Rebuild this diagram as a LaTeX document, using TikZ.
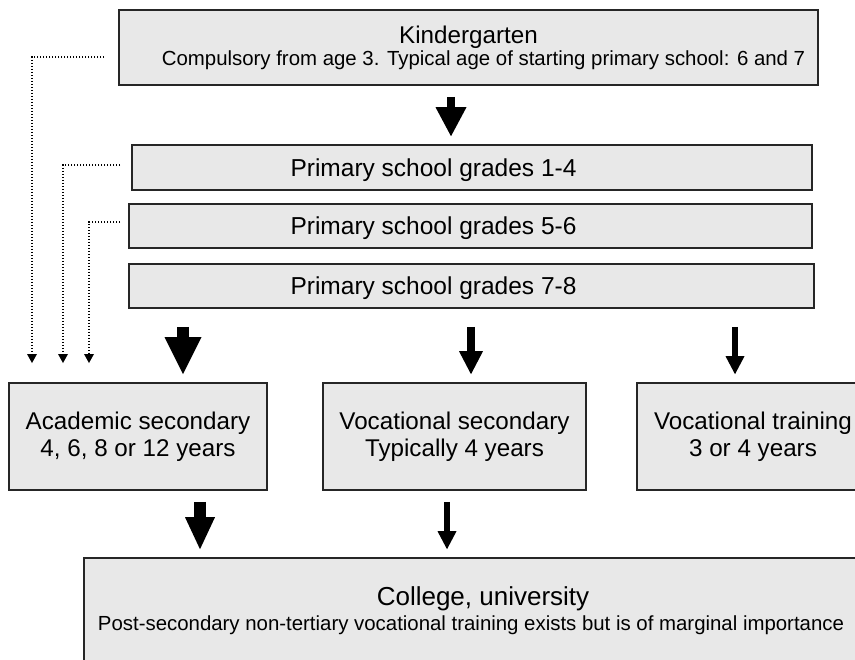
\documentclass[tikz,border=0pt]{standalone}
\usepackage{fontspec}
\setmainfont{Liberation Sans}
\usetikzlibrary{arrows.meta}

\newcommand{\smalltext}[1]{{\fontsize{10.2}{11}\selectfont #1}}

\tikzset{
  stage/.style={draw=black!85, fill=black!9, line width=0.8pt, inner sep=0pt,
    align=center, font=\fontsize{12.1}{13.5}\selectfont},
  stagetext/.style={inner sep=0pt, anchor=base, font=\fontsize{12.25}{13.5}\selectfont},
  dotline/.style={line width=1pt, dash pattern=on 0.8pt off 0.7pt,
    -{Triangle[width=5pt,length=4.5pt,line width=0pt]}},
  bigarrow/.style={line width=6pt, -{Triangle[width=18.5pt,length=18.5pt,line width=0pt]}},
  topArrow/.style={line width=4pt, -{Triangle[width=15.5pt,length=14.5pt,line width=0pt]}},
  midarrow/.style={line width=4pt, -{Triangle[width=12pt,length=11.5pt,line width=0pt]}},
  thinarrow/.style={line width=3pt, -{Triangle[width=9.5pt,length=9pt,line width=0pt]}},
  lowarrow/.style={line width=6pt, -{Triangle[width=15pt,length=16pt,line width=0pt]}}
}

\begin{document}
\begin{tikzpicture}[x=0.5pt,y=-0.5pt]
        \useasboundingbox (0,0) rectangle (855,659);
        \clip (0,0) rectangle (855,659);

        % school stages
        \node[stage, minimum width=349.5pt, minimum height=37.5pt] (kg) at (468.5,47.5)
          {Kindergarten\\[-2.5pt] \hspace*{15pt}\smalltext{Compulsory from age 3. Typical age of starting primary school: 6 and 7}};
        \node[stage, minimum width=340pt, minimum height=22.5pt] (p1) at (472,167.5) {};
        \node[stage, minimum width=341.5pt, minimum height=22pt] (p2) at (470.5,226) {};
        \node[stage, minimum width=342.5pt, minimum height=22pt] (p3) at (471.5,286) {};
        \node[stagetext] (p1t) at (433.5,176) {Primary school grades 1-4};
        \node[stagetext] (p2t) at (433.5,234) {Primary school grades 5-6};
        \node[stagetext] (p3t) at (433.5,294) {Primary school grades 7-8};

        \node[stage, minimum width=129pt, minimum height=53.5pt] (acad) at (138,436.5)
          {Academic secondary\\4, 6, 8 or 12 years};
        \node[stage, minimum width=131.5pt, minimum height=53.5pt] (vsec) at (454.5,436.5)
          {Vocational secondary\\Typically 4 years};
        \node[stage, minimum width=116pt, minimum height=53.5pt] (vtrain) at (753,436.5)
          {Vocational training\\3 or 4 years};

        \node[stage, minimum width=387pt, minimum height=53pt] (coll) at (471,611)
          {\fontsize{13}{15}\selectfont \hspace*{12pt}College, university\\[-1pt]
           \smalltext{Post-secondary non-tertiary vocational training exists but is of marginal importance}};

        % arrows
        \draw[topArrow] ([yshift=-5.5pt]kg.south -| 451,0) -- ([yshift=4pt]p1.north -| 451,0);
        \draw[bigarrow] ([yshift=-9pt]p3.south -| 183,0) -- ([yshift=4pt]acad.north -| 183,0);
        \draw[midarrow] ([yshift=-9pt]p3.south -| 471,0) -- ([yshift=4pt]vsec.north -| 471,0);
        \draw[thinarrow] ([yshift=-9pt]p3.south -| 735,0) -- ([yshift=4pt]vtrain.north -| 735,0);
        \draw[lowarrow] ([yshift=-5.5pt]acad.south -| 200,0) -- ([yshift=4pt]coll.north -| 200,0);
        \draw[thinarrow] ([yshift=-5.5pt]vsec.south -| 447,0) -- ([yshift=4pt]coll.north -| 447,0);

        % earlier entry into academic secondary
        \coordinate (d1) at (32,363);
        \coordinate (d2) at (63,363);
        \coordinate (d3) at (89,363);
        \draw[dotline] ([xshift=-7pt]kg.west |- 0,57) -| (d1);
        \draw[dotline] ([xshift=-5.5pt]p1.west |- 0,165) -| (d2);
        \draw[dotline] ([xshift=-4pt]p2.west |- 0,222) -| (d3);
\end{tikzpicture}
\end{document}
